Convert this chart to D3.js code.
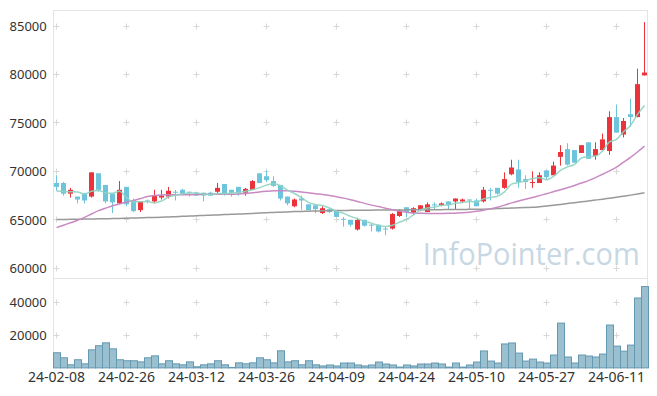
<!DOCTYPE html>
<html><head><meta charset="utf-8">
<script src="https://cdn.jsdelivr.net/npm/d3@7"></script>
<style>
html,body{margin:0;padding:0;background:#fff;}
svg{display:block;font-family:"Noto Sans",sans-serif;}
</style></head>
<body>
<svg id="chart" width="657" height="396"></svg>
<script>
const dates = ["24-02-08","24-02-13","24-02-14","24-02-15","24-02-16","24-02-19","24-02-20","24-02-21","24-02-22","24-02-23",
"24-02-26","24-02-27","24-02-28","24-02-29","24-03-04","24-03-05","24-03-06","24-03-07","24-03-08","24-03-11",
"24-03-12","24-03-13","24-03-14","24-03-15","24-03-18","24-03-19","24-03-20","24-03-21","24-03-22","24-03-25",
"24-03-26","24-03-27","24-03-28","24-03-29","24-04-01","24-04-02","24-04-03","24-04-04","24-04-05","24-04-08",
"24-04-09","24-04-11","24-04-12","24-04-15","24-04-16","24-04-17","24-04-18","24-04-19","24-04-22","24-04-23",
"24-04-24","24-04-25","24-04-26","24-04-29","24-04-30","24-05-02","24-05-03","24-05-07","24-05-08","24-05-09",
"24-05-10","24-05-13","24-05-14","24-05-16","24-05-17","24-05-20","24-05-21","24-05-22","24-05-23","24-05-24",
"24-05-27","24-05-28","24-05-29","24-05-30","24-05-31","24-06-03","24-06-04","24-06-05","24-06-07","24-06-10",
"24-06-11","24-06-12","24-06-13","24-06-14","24-06-17"];

const opens = [68800,68800,67700,67400,67700,67400,69800,68600,67700,66700,
68400,67000,66000,67000,66900,67300,67400,67900,68100,67900,
67800,67800,67800,67900,68700,68100,68400,67800,68100,69800,
69500,69000,68600,67400,66400,67200,66600,66500,65700,66100,
66000,65100,65000,64000,65000,64500,64500,64100,64100,65400,
66300,65700,66100,65800,66600,66500,66900,66900,66900,67100,
67000,66900,68100,68300,68300,69700,70200,69200,68800,68800,
70100,69600,71500,72300,72200,71900,73000,71600,72200,72100,
75600,73800,75900,75600,79900];
const highs = [69600,68900,68300,67400,67800,69900,69800,68600,67700,69000,
68400,67200,66900,67100,68100,68100,68400,68100,68200,67900,
67900,67800,67900,68800,68700,68100,68400,68300,69100,69800,
70100,69500,68600,67400,67200,67500,66600,66500,66400,66200,
66000,65300,65000,65200,65000,64600,64500,64300,65700,66100,
66300,66300,66500,66800,66800,66800,66900,67200,67200,67100,
67200,68400,68300,68300,69900,71200,71200,69600,70000,69900,
70100,71000,72700,72900,72200,72700,73000,73000,73900,76200,
76900,75500,77500,80600,85400];
const lows = [68000,67500,67300,66700,66700,67300,67900,66700,65700,66600,
66400,65800,65800,66700,66700,67100,67200,67000,67700,67400,
67500,66900,67500,67700,67500,67400,67500,67500,68100,68800,
68900,68400,67000,66500,66300,66000,66000,65700,65600,65700,
65300,64300,64300,63900,64300,63800,63700,63400,64000,65300,
65300,65500,65900,65800,66100,66400,66100,66100,66800,66100,
66400,66800,67000,67600,68200,69600,68300,68200,68300,68800,
69100,69600,70600,70600,70900,71900,71300,71200,72200,71700,
74000,73500,74600,75600,79900];
const closes = [68400,67700,68100,67100,67000,69900,68100,66900,66800,68100,
66600,65900,66900,66900,67500,67500,68000,67800,67700,67800,
67500,67500,67500,68300,67700,67800,67800,68200,69000,68800,
69100,68500,67200,66700,67100,67000,66000,66100,66200,65800,
65300,65000,64500,65000,64400,64400,63800,64000,65600,66000,
65800,66200,66500,66600,66500,66700,66500,67200,67100,67000,
66400,68100,68000,67700,69200,70400,68900,68900,68900,69600,
69400,70600,72000,70700,70900,72700,71300,72300,73300,75600,
74000,75200,75600,79000,80200];
const volumes = [9600,6500,2200,5300,2800,11400,13900,15700,12000,5300,
4700,4700,4000,6500,7700,2800,4700,2800,2200,4000,
1000,2200,2800,4700,2200,600,3400,2800,3400,6500,
5300,3400,10800,4000,4700,2200,4700,2200,1500,2100,
1500,3300,3300,2100,1500,2100,3900,2700,2100,800,
2100,1500,2700,2700,3300,2700,800,3300,800,2100,
3900,10700,4500,3300,15000,15600,9400,4500,5700,3900,
3300,8200,27800,7000,3300,8200,7600,7000,8800,26600,
13700,10600,14300,43200,50200];

// 5-day average values for the first four days (prior closes are not in the window)
const ma5Head = [67980,67920,67900,67880];
const ma20 = [64200,64450,64700,64950,65250,65600,65950,66200,66450,66650,
66850,67000,67200,67400,67520,67570,67580,67580,67580,67590,
67610,67630,67640,67640,67640,67630,67660,67720,67800,67880,
67940,67990,68010,68000,67950,67880,67800,67700,67620,67520,
67380,67240,67080,66900,66700,66520,66370,66200,66050,65900,
65780,65700,65670,65660,65660,65660,65670,65690,65720,65780,
65880,66000,66130,66300,66520,66750,66950,67120,67300,67500,
67700,67900,68100,68320,68550,68800,69050,69350,69700,70050,
70450,70950,71450,72000,72600];
const ma120 = [65030,65040,65050,65060,65075,65090,65100,65115,65130,65150,
65170,65190,65210,65230,65250,65270,65300,65330,65360,65390,
65420,65450,65480,65510,65540,65570,65600,65630,65660,65700,
65730,65760,65790,65820,65850,65870,65890,65910,65930,65950,
65960,65970,65980,65990,66000,66000,66010,66010,66020,66020,
66030,66030,66040,66040,66050,66050,66060,66060,66070,66080,
66090,66100,66130,66160,66190,66220,66250,66270,66290,66350,
66420,66500,66590,66680,66770,66860,66950,67040,67130,67230,
67330,67440,67550,67670,67800];

const priceTicks = [60000,65000,70000,75000,80000,85000];
const volumeTicks = [20000,40000];
const xTickLabels = dates.filter((d,i)=>i%10===0);
const watermark = "InfoPointer.com";

const ma5 = closes.map((c,i)=> i<4 ? ma5Head[i] : d3.mean(closes.slice(i-4,i+1)));

const L=53, R=648, T=10, MID=278, B=368;
const svg = d3.select("#chart");

const x = d3.scaleBand().domain(dates).range([L,R]).padding(0);
const bw = x.bandwidth();
const cx = d => x(d) + bw/2;
const y = d3.scaleLinear().domain([60000,85000]).range([268.3,26]);
const yv = d3.scaleLinear().domain([0,40000]).range([367.9,302.7]);

// panel frames
const frame = svg.append("g").attr("fill","none").attr("stroke","#e4e4e4").attr("stroke-width",1);
frame.append("rect").attr("x",L+0.5).attr("y",T+0.5).attr("width",R-L-1).attr("height",MID-T);
frame.append("rect").attr("x",L+0.5).attr("y",MID+0.5).attr("width",R-L-1).attr("height",B-MID-1);

// cross markers at grid intersections
const crosses = svg.append("g").attr("stroke","#d8d8d8").attr("stroke-width",1);
function cross(px,py){
  px=Math.round(px-0.5)+0.5; py=Math.round(py-0.5)+0.5;
  crosses.append("path").attr("d",`M${px-3},${py}H${px+3}M${px},${py-3}V${py+3}`);
}
xTickLabels.forEach(d=>{
  priceTicks.forEach(p=>cross(cx(d),y(p)));
  volumeTicks.forEach(v=>cross(cx(d),yv(v)));
});

// watermark
svg.append("text").attr("x",422.7).attr("y",265.3)
  .attr("font-family","'Open Sans',sans-serif").attr("font-size",31)
  .attr("textLength",217).attr("lengthAdjust","spacingAndGlyphs")
  .attr("fill","#c7d8e4").text(watermark);

// axes
const yAxis = svg.append("g").attr("transform",`translate(${L},0)`)
  .call(d3.axisLeft(y).tickValues(priceTicks).tickSize(0).tickPadding(6.3).tickFormat(d3.format("d")));
const vAxis = svg.append("g").attr("transform",`translate(${L},0)`)
  .call(d3.axisLeft(yv).tickValues(volumeTicks).tickSize(0).tickPadding(6.3).tickFormat(d3.format("d")));
const xAxis = svg.append("g").attr("transform",`translate(0,${B})`)
  .call(d3.axisBottom(x).tickValues(xTickLabels).tickSize(0).tickPadding(3.7));
[yAxis,vAxis,xAxis].forEach(a=>{
  a.select(".domain").remove();
  a.selectAll("text").attr("fill","#333").attr("font-family","'Noto Sans',sans-serif");
});
yAxis.selectAll("text").attr("font-size",13);
vAxis.selectAll("text").attr("font-size",13);
xAxis.selectAll("text").attr("font-size",14);

// volume bars
svg.append("g").selectAll("rect").data(dates).join("rect")
  .attr("x",d=>x(d)+0.5)
  .attr("y",(d,i)=>yv(volumes[i])+0.5)
  .attr("width",bw)
  .attr("height",(d,i)=>Math.max(0,yv(0)-yv(volumes[i])-0.5))
  .attr("fill","#9ac0d0").attr("stroke","#6598b1").attr("stroke-width",1);

// candles
const red="#ea333b", blue="#6ec4db";
const cg = svg.append("g");
dates.forEach((d,i)=>{
  const up = closes[i] >= opens[i];
  const col = up ? red : blue;
  const xc = Math.floor(cx(d)) + 0.5;
  cg.append("line").attr("x1",xc).attr("x2",xc)
    .attr("y1",y(highs[i])).attr("y2",y(lows[i]))
    .attr("stroke",col).attr("stroke-width",1);
  const top = y(Math.max(opens[i],closes[i]));
  const bot = y(Math.min(opens[i],closes[i]));
  cg.append("rect").attr("x",x(d)+1).attr("width",bw-2)
    .attr("y",top).attr("height",Math.max(1,bot-top)).attr("fill",col);
});

// moving averages
const line = arr => d3.line().x((d,i)=>cx(dates[i])).y(d=>y(d)).curve(d3.curveMonotoneX)(arr);
svg.append("path").attr("d",line(ma120)).attr("fill","none").attr("stroke","#999").attr("stroke-width",1.5);
svg.append("path").attr("d",line(ma20)).attr("fill","none").attr("stroke","#c98ac3").attr("stroke-width",1.5);
svg.append("path").attr("d",line(ma5)).attr("fill","none").attr("stroke","#8ed3c1").attr("stroke-width",1.5).attr("opacity",0.9);
</script>
</body></html>
